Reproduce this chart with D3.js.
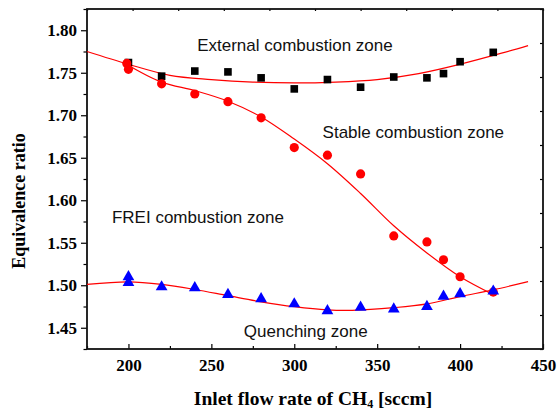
<!DOCTYPE html>
<html>
<head>
<meta charset="utf-8">
<script src="https://cdn.jsdelivr.net/npm/d3@7"></script>
<style>
  body { margin: 0; background: #fff; }
  svg { display: block; }
  .tick text { font-family: "Liberation Serif", "Times New Roman", serif; font-weight: bold; font-size: 17px; fill: #000; }
  .zone { font-family: "Liberation Sans", Arial, sans-serif; font-size: 17px; fill: #111; }
  .title { font-family: "Liberation Serif", "Times New Roman", serif; font-weight: bold; }
</style>
</head>
<body>
<div id="chart"></div>
<script>
// measured points
const flow = [200, 220, 240, 260, 280, 300, 320, 340, 360, 380, 390, 400, 420];
const external = [1.762, 1.746, 1.752, 1.751, 1.744, 1.731, 1.742, 1.733, 1.745, 1.744, 1.749, 1.763, 1.774];

const stableX = [199, 200, 220, 240, 260, 280, 300, 320, 340, 360, 380, 390, 400, 420];
const stable = [1.761, 1.754, 1.737, 1.725, 1.716, 1.697, 1.662, 1.653, 1.631, 1.558, 1.551, 1.530, 1.510, 1.492];

const quenchX = [200, 200, 220, 240, 260, 280, 300, 320, 340, 360, 380, 390, 400, 420];
const quench = [1.510, 1.503, 1.498, 1.497, 1.489, 1.484, 1.478, 1.470, 1.474, 1.472, 1.475, 1.487, 1.490, 1.493];

// fitted curves
const extFitX = [175, 200, 225, 250, 275, 300, 325, 350, 375, 400, 425, 441];
const extFit = [1.775, 1.760, 1.747, 1.742, 1.739, 1.738, 1.739, 1.742, 1.749, 1.760, 1.773, 1.782];

const stableFitX = [198, 220, 240, 260, 280, 300, 320, 340, 360, 380, 400, 420];
const stableFit = [1.761, 1.739, 1.729, 1.7165, 1.698, 1.672, 1.643, 1.608, 1.570, 1.538, 1.510, 1.489];

const quenchFitX = [175, 200, 220, 240, 260, 280, 300, 320, 335, 360, 380, 400, 420, 441];
const quenchFit = [1.501, 1.504, 1.501, 1.495, 1.4877, 1.4805, 1.4748, 1.471, 1.4705, 1.4736, 1.478, 1.4867, 1.4946, 1.5042];

const xTicks = [200, 250, 300, 350, 400, 450];
const yTicks = [1.45, 1.50, 1.55, 1.60, 1.65, 1.70, 1.75, 1.80];

const margin = { top: 9, right: 14, bottom: 62, left: 87 },
  width = 557 - margin.left - margin.right,
  height = 411 - margin.top - margin.bottom;

const svg = d3.select("#chart").append("svg")
  .attr("width", 557).attr("height", 411)
  .append("g")
  .attr("transform", "translate(" + margin.left + "," + margin.top + ")");

const x = d3.scaleLinear().domain([175, 450]).range([0, width]);
const y = d3.scaleLinear().domain([1.425, 1.825]).range([height, 0]);

// minor ticks
const xMinor = d3.range(175, 451, 25).filter((v) => xTicks.indexOf(v) < 0);
const yMinor = d3.range(1.425, 1.826, 0.025).map((v) => +v.toFixed(3))
  .filter((v) => !yTicks.some((t) => Math.abs(t - v) < 1e-6));

// bottom axis, ticks inward
svg.append("g")
  .attr("transform", "translate(0," + height + ")")
  .call(d3.axisBottom(x).tickValues(xMinor).tickSize(-3).tickFormat(""))
  .call((g) => g.select(".domain").remove());
const xAx = svg.append("g")
  .attr("transform", "translate(0," + height + ")")
  .call(d3.axisBottom(x).tickValues(xTicks).tickSize(-5).tickPadding(10).tickFormat(d3.format("d")));
xAx.select(".domain").remove();

// left axis, ticks outward
svg.append("g")
  .call(d3.axisLeft(y).tickValues(yMinor).tickSize(3.5).tickFormat(""))
  .call((g) => g.select(".domain").remove());
const yAx = svg.append("g")
  .call(d3.axisLeft(y).tickValues(yTicks).tickSize(6).tickPadding(4).tickFormat(d3.format(".2f")));
yAx.select(".domain").remove();

// top and right: ten plain divisions
const xTop = d3.scaleLinear().domain([0, 10]).range([0, width]);
const yRight = d3.scaleLinear().domain([0, 10]).range([height, 0]);
svg.append("g")
  .call(d3.axisBottom(xTop).ticks(10).tickSize(2).tickFormat(""))
  .call((g) => g.select(".domain").remove());
svg.append("g")
  .attr("transform", "translate(" + width + ",0)")
  .call(d3.axisLeft(yRight).ticks(10).tickSize(3).tickFormat(""))
  .call((g) => g.select(".domain").remove());

svg.selectAll(".tick line").attr("stroke", "#000").attr("stroke-width", 1.2);

// frame
svg.append("rect")
  .attr("width", width).attr("height", height)
  .attr("fill", "none").attr("stroke", "#111").attr("stroke-width", 1.8);

// fit lines
const line = d3.line().curve(d3.curveCatmullRom).x((d) => x(d[0])).y((d) => y(d[1]));
[[extFitX, extFit], [stableFitX, stableFit], [quenchFitX, quenchFit]].forEach(([xs, ys]) => {
  svg.append("path")
    .datum(xs.map((v, i) => [v, ys[i]]))
    .attr("d", line)
    .attr("fill", "none")
    .attr("stroke", "#ff0000")
    .attr("stroke-width", 1.2);
});

// markers
const addPoints = (xs, ys, type, size, color) => {
  svg.append("g").selectAll("path")
    .data(xs.map((v, i) => [v, ys[i]]))
    .join("path")
    .attr("transform", (d) => "translate(" + x(d[0]) + "," + y(d[1]) + ")")
    .attr("d", d3.symbol().type(type).size(size))
    .attr("fill", color);
};
addPoints(flow, external, d3.symbolSquare, 58, "#000");
addPoints(stableX, stable, d3.symbolCircle, 66, "#ff0000");
addPoints(quenchX, quench, d3.symbolTriangle, 60, "#0000ff");

// zone labels (baseline positions in data units)
const zones = [
  { text: "External combustion zone", x: 300.4, y: 1.7759 },
  { text: "Stable combustion zone", x: 371.8, y: 1.6729 },
  { text: "FREI combustion zone", x: 241.9, y: 1.5736 },
  { text: "Quenching zone", x: 306.9, y: 1.4388 }
];
svg.selectAll(".zone")
  .data(zones)
  .join("text")
  .attr("class", "zone")
  .attr("x", (d) => x(d.x))
  .attr("y", (d) => y(d.y))
  .attr("text-anchor", "middle")
  .text((d) => d.text);

// axis titles
const xt = svg.append("text")
  .attr("class", "title")
  .attr("font-size", "19.5px")
  .attr("x", 313 - margin.left)
  .attr("y", height + 56)
  .attr("text-anchor", "middle");
xt.append("tspan").text("Inlet flow rate of CH");
xt.append("tspan").attr("font-size", "12px").attr("dy", 3).text("4");
xt.append("tspan").attr("dy", -3).text(" [sccm]");

svg.append("text")
  .attr("class", "title")
  .attr("font-size", "18px")
  .attr("transform", "translate(" + (-62) + "," + (height / 2 + 22) + ") rotate(-90)")
  .attr("text-anchor", "middle")
  .text("Equivalence ratio");
</script>
</body>
</html>
